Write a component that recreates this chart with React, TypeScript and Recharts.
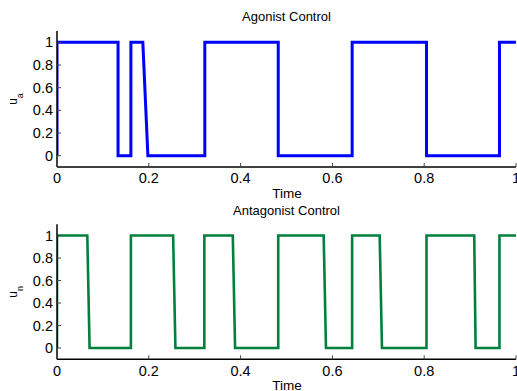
import { LineChart, Line, XAxis, YAxis } from 'recharts'

// agonist control (u_a) step signal
const agonistT = [0, 0, 0.133, 0.133, 0.161, 0.161, 0.187, 0.198, 0.322, 0.322, 0.482, 0.482, 0.643, 0.643, 0.805, 0.805, 0.964, 0.964, 1]
const agonistU = [0, 1, 1, 0, 0, 1, 1, 0, 0, 1, 1, 0, 0, 1, 1, 0, 0, 1, 1]

// antagonist control (u_n)
const antagonistT = [0, 0, 0.066, 0.071, 0.161, 0.161, 0.253, 0.258, 0.321, 0.321, 0.383, 0.388, 0.482, 0.482, 0.581, 0.586, 0.643, 0.643, 0.703, 0.708, 0.805, 0.805, 0.909, 0.912, 0.964, 0.964, 1]
const antagonistU = [0, 1, 1, 0, 0, 1, 1, 0, 0, 1, 1, 0, 0, 1, 1, 0, 0, 1, 1, 0, 0, 1, 1, 0, 0, 1, 1]

const xTicks = [0, 0.2, 0.4, 0.6, 0.8, 1]
const yTicks = [0, 0.2, 0.4, 0.6, 0.8, 1]

const FONT = '"Liberation Sans", Arial, Helvetica, sans-serif'
const TICK_LEN = 4

const BottomTick = (props: any) => {
  const { x, y, payload } = props
  const axisY = y - 6
  return (
    <g>
      <line x1={x} x2={x} y1={axisY} y2={axisY - TICK_LEN} stroke="#444" strokeWidth={1} />
      <text x={x} y={y} dy="0.71em" textAnchor="middle" fontSize={14.5} fontFamily={FONT} fill="#000">
        {String(payload.value)}
      </text>
    </g>
  )
}

const LeftTick = (props: any) => {
  const { x, y, payload } = props
  const axisX = x + 4
  return (
    <g>
      <line x1={axisX} x2={axisX + TICK_LEN} y1={y} y2={y} stroke="#444" strokeWidth={1} />
      <text x={x} y={y} dy="0.355em" textAnchor="end" fontSize={14.5} fontFamily={FONT} fill="#000">
        {String(payload.value)}
      </text>
    </g>
  )
}

const TopTick = (props: any) => {
  const { x, y } = props
  return <line x1={x} x2={x} y1={y} y2={y + TICK_LEN} stroke="#555" strokeWidth={1} />
}

const RightTick = (props: any) => {
  const { x, y } = props
  return <line x1={x} x2={x - TICK_LEN} y1={y} y2={y} stroke="#555" strokeWidth={1} />
}

type PanelProps = {
  t: number[]
  u: number[]
  color: string
  width: number
  height: number
  top: number
  bottom: number
  title: string
  titleY: number
  timeY: number
  sub: string
}

function Panel({ t, u, color, width, height, top, bottom, title, titleY, timeY, sub }: PanelProps) {
  const data = t.map((v, i) => ({ t: v, u: u[i] }))
  const plotMid = (top + (height - bottom)) / 2
  return (
    <LineChart width={517} height={height} data={data} margin={{ top, right: 1, bottom: 0, left: 0 }}>
      <XAxis
        dataKey="t"
        type="number"
        domain={[0, 1]}
        ticks={xTicks}
        height={bottom}
        tickSize={0}
        tickMargin={6}
        tick={<BottomTick />}
        axisLine={{ stroke: '#000', strokeWidth: 1.5 }}
        tickLine={false}
        interval={0}
        allowDataOverflow
      />
      <XAxis
        xAxisId="top"
        orientation="top"
        type="number"
        domain={[0, 1]}
        ticks={xTicks}
        height={0}
        tickSize={0}
        tickMargin={0}
        tick={<TopTick />}
        axisLine={{ stroke: '#333', strokeWidth: 1.5 }}
        tickLine={false}
        interval={0}
      />
      <YAxis
        type="number"
        domain={[-0.1, 1.1]}
        ticks={yTicks}
        width={57}
        tickSize={0}
        tickMargin={4}
        tick={<LeftTick />}
        axisLine={{ stroke: '#000', strokeWidth: 1.5 }}
        tickLine={false}
        interval={0}
        allowDataOverflow
      />
      <YAxis
        yAxisId="right"
        orientation="right"
        type="number"
        domain={[-0.1, 1.1]}
        ticks={yTicks}
        width={0}
        tickSize={0}
        tickMargin={0}
        tick={<RightTick />}
        axisLine={{ stroke: '#777', strokeWidth: 1 }}
        tickLine={false}
        interval={0}
      />
      <Line
        dataKey="u"
        type="linear"
        stroke={color}
        strokeWidth={width}
        dot={false}
        activeDot={false}
        isAnimationActive={false}
      />
      <text x={286.5} y={titleY} textAnchor="middle" fontSize={13} fontFamily={FONT} fill="#000">
        {title}
      </text>
      <text x={287} y={timeY} textAnchor="middle" fontSize={13.5} fontFamily={FONT} fill="#000">
        Time
      </text>
      <text
        x={17}
        y={plotMid}
        transform={`rotate(-90, 17, ${plotMid})`}
        textAnchor="middle"
        fontSize={12}
        fontFamily={FONT}
        fill="#000"
      >
        u
        <tspan fontSize={9} dy={6}>
          {sub}
        </tspan>
      </text>
    </LineChart>
  )
}

export default function App() {
  return (
    <div style={{ position: 'absolute', left: 0, top: 0, width: 517, height: 391, background: '#fff' }}>
      <div style={{ position: 'absolute', left: 0, top: 0 }}>
        <Panel
          t={agonistT}
          u={agonistU}
          color="#0000FF"
          width={3}
          height={200}
          top={31}
          bottom={33}
          title="Agonist Control"
          titleY={20.5}
          timeY={197.5}
          sub="a"
        />
      </div>
      <div style={{ position: 'absolute', left: 0, top: 200 }}>
        <Panel
          t={antagonistT}
          u={antagonistU}
          color="#00803C"
          width={2.6}
          height={191}
          top={24.3}
          bottom={31.7}
          title="Antagonist Control"
          titleY={14.5}
          timeY={190.3}
          sub="n"
        />
      </div>
    </div>
  )
}
